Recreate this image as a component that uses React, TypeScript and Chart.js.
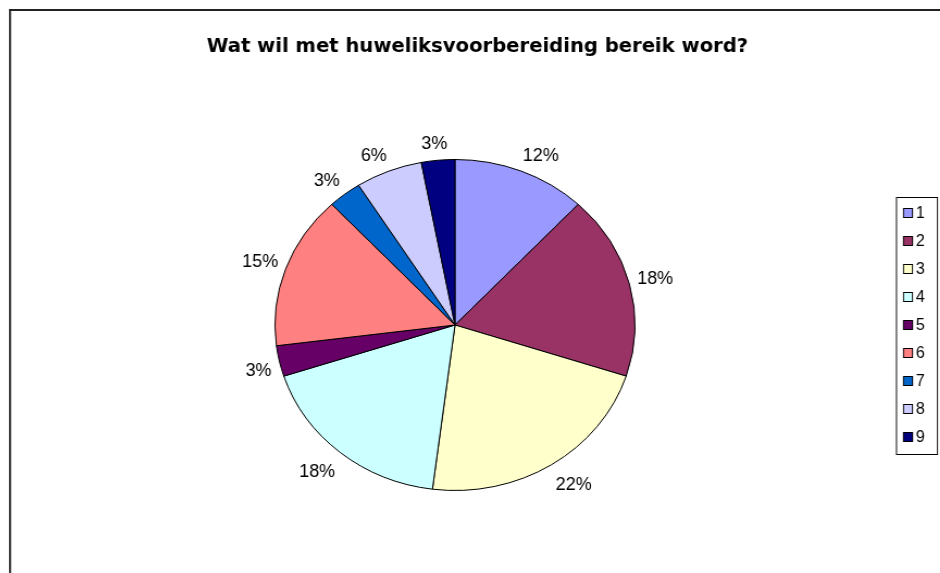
import React, { useEffect, useRef } from "react";
import { Chart, registerables } from "chart.js";
Chart.register(...registerables);

const TITLE = "Wat wil met huweliksvoorbereiding bereik word?";
const categories = ["1", "2", "3", "4", "5", "6", "7", "8", "9"];
const values = [12, 18, 22, 18, 3, 15, 3, 6, 3];
const colors = ["#9999FF", "#993366", "#FFFFCC", "#CCFFFF", "#660066", "#FF8080", "#0066CC", "#CCCCFF", "#000080"];

const W = 940;
const H = 573;
const CX = 455;
const CY = 325;
const RY = 165.5;
const RX = 180;
const K = RX / RY;
const FONT = '"Liberation Sans", Arial, sans-serif';

function toScreen(ctx: CanvasRenderingContext2D) {
  ctx.translate(CX, 0);
  ctx.scale(1 / K, 1);
  ctx.translate(-CX, 0);
}

const overlay = {
  id: "overlay",
  beforeDraw(chart: any) {
    const ctx: CanvasRenderingContext2D = chart.ctx;
    ctx.save();
    ctx.fillStyle = "#ffffff";
    ctx.fillRect(0, 0, W, H);
    ctx.restore();
  },
  afterDraw(chart: any) {
    const ctx: CanvasRenderingContext2D = chart.ctx;
    ctx.save();
    toScreen(ctx);
    // frame
    ctx.fillStyle = "#222222";
    ctx.fillRect(9, 9, W, 2);
    ctx.fillRect(9, 9, 2, H);
    // title
    ctx.fillStyle = "#000000";
    ctx.font = `bold 19.6px "DejaVu Sans", Verdana, sans-serif`;
    ctx.textAlign = "center";
    ctx.textBaseline = "alphabetic";
    ctx.fillText(TITLE, 477.5, 52);
    // percentage labels
    ctx.textBaseline = "middle";
    const meta = chart.getDatasetMeta(0);
    ctx.font = `18px ${FONT}`;
    meta.data.forEach((arc: any, i: number) => {
      const a = (arc.startAngle + arc.endAngle) / 2;
      const ux = Math.cos(a);
      const uy = Math.sin(a);
      const label = `${values[i]}%`;
      const w = ctx.measureText(label).width;
      const h = 14;
      const r = arc.outerRadius;
      const ax = CX + (r * K + 8) * ux;
      const ay = CY + (r + 12) * uy;
      const cx = ax + (w / 2) * Math.max(-1, Math.min(1, ux * 2.5));
      const cy = ay + (h / 2) * Math.max(-1, Math.min(1, uy * 2.5)) + 3;
      ctx.fillText(label, cx, cy);
    });
    // legend
    ctx.fillStyle = "#ffffff";
    ctx.fillRect(896, 197, 42, 258);
    ctx.strokeStyle = "#000000";
    ctx.lineWidth = 1;
    ctx.strokeRect(896.5, 197.5, 41, 257);
    ctx.font = `16px ${FONT}`;
    ctx.textAlign = "left";
    categories.forEach((c, i) => {
      const y = 213 + i * 28;
      ctx.fillStyle = colors[i];
      ctx.fillRect(903, y - 5, 10, 10);
      ctx.strokeStyle = "#000000";
      ctx.strokeRect(903.5, y - 4.5, 9, 9);
      ctx.fillStyle = "#000000";
      ctx.fillText(c, 916, y + 1);
    });
    ctx.restore();
  },
};

export default function App() {
  const ref = useRef<HTMLCanvasElement | null>(null);
  useEffect(() => {
    if (!ref.current) return;
    const chart = new Chart(ref.current, {
      type: "pie",
      data: {
        labels: categories,
        datasets: [
          {
            data: values,
            backgroundColor: colors,
            borderColor: "#000000",
            borderWidth: 1,
            radius: RY,
          } as any,
        ],
      },
      options: {
        responsive: false,
        animation: false,
        devicePixelRatio: 1,
        layout: {
          padding: { left: CX - RY, right: W - CX - RY, top: CY - RY, bottom: H - CY - RY },
        },
        plugins: {
          legend: { display: false },
          tooltip: { enabled: false },
          title: { display: false },
        },
      },
      plugins: [overlay],
    });
    return () => chart.destroy();
  }, []);
  return (
    <div style={{ position: "fixed", left: 0, top: 0, width: W, height: H, overflow: "hidden", background: "#fff" }}>
      <canvas
        ref={ref}
        width={W}
        height={H}
        style={{
          position: "absolute",
          left: 0,
          top: 0,
          width: W,
          height: H,
          transform: `scaleX(${K})`,
          transformOrigin: `${CX}px 0px`,
        }}
      />
    </div>
  );
}
